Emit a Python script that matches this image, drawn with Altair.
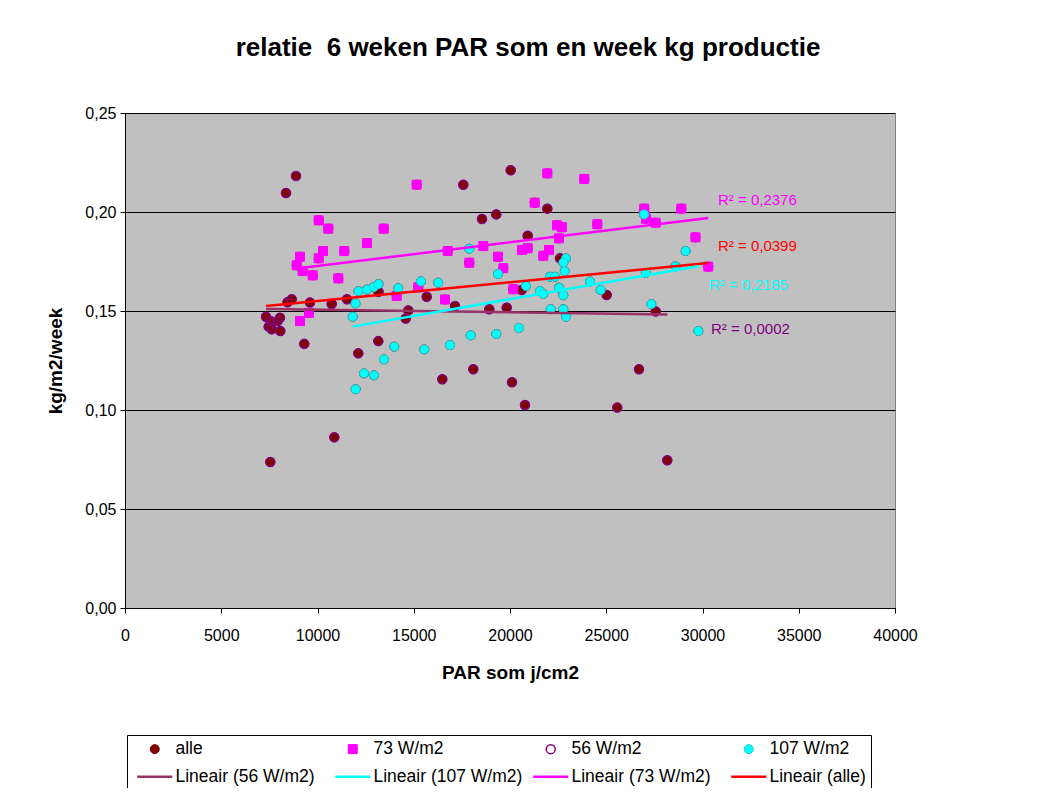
import altair as alt
import pandas as pd

FONT = "Liberation Sans"

# 56 W/m2 series (dark red points, also part of "alle")
par_56 = [8883, 8364, 8660, 8442, 9610, 10738, 11532, 13169, 15673, 14717, 14582,
          7325, 7558, 8052, 7932, 7465, 7621, 8068, 9314, 13158, 12119, 16483,
          10873, 7548, 20036, 17574, 19288, 18545, 21938, 20919, 22597, 25023,
          20608, 17143, 18925, 19829, 18094, 20104, 20779, 25574, 26701, 27569, 28171]
kg_56 = [0.2182, 0.2096, 0.1559, 0.1544, 0.1543, 0.1535, 0.1559, 0.1597, 0.1572, 0.1503, 0.1462,
         0.1471, 0.1449, 0.1466, 0.1449, 0.1421, 0.1408, 0.1399, 0.1334, 0.1348, 0.1286, 0.1155,
         0.0862, 0.0737, 0.2211, 0.2138, 0.1988, 0.1965, 0.2017, 0.1880, 0.1766, 0.1581,
         0.1606, 0.1525, 0.1509, 0.1517, 0.1206, 0.1140, 0.1025, 0.1012, 0.1206, 0.1498, 0.0746]

# 73 W/m2 series (magenta squares)
par_73 = [15153, 10062, 10561, 13439, 12571, 10286, 11392, 10062, 9091, 8919, 9231, 9751,
          11081, 9558, 9091, 16623, 15236, 14114, 21938, 23860, 21283, 22442, 22701, 24535,
          22545, 16764, 18613, 20623, 20919, 22026, 21730, 19377, 17886, 19652, 20171,
          26977, 27065, 28899, 27569, 29636, 30301]
kg_73 = [0.2138, 0.1958, 0.1916, 0.1916, 0.1843, 0.1803, 0.1803, 0.1766, 0.1774, 0.1731, 0.1702, 0.1680,
         0.1665, 0.1491, 0.1449, 0.1558, 0.1620, 0.1576, 0.2195, 0.2167, 0.2047, 0.1933, 0.1923, 0.1938,
         0.1867, 0.1803, 0.1828, 0.1808, 0.1817, 0.1808, 0.1779, 0.1774, 0.1744, 0.1716, 0.1610,
         0.2017, 0.1966, 0.2017, 0.1946, 0.1872, 0.1724]

# 107 W/m2 series (cyan points)
par_107 = [12130, 12571, 12919, 13169, 11974, 11829, 14197, 15377, 16270, 13990, 13455, 12416,
           12935, 15548, 16883, 11984, 17958, 19288, 20468, 22114, 22769, 22909, 17886, 19377,
           22909, 22769, 22842, 22078, 22338, 20831, 21558, 21730, 22545, 22769, 24156, 24712,
           26961, 29127, 28597, 27055, 27340, 29782]
kg_107 = [0.1600, 0.1608, 0.1621, 0.1636, 0.1538, 0.1471, 0.1615, 0.1650, 0.1643, 0.1320, 0.1256, 0.1185,
          0.1175, 0.1306, 0.1328, 0.1105, 0.1377, 0.1384, 0.1414, 0.1509, 0.1509, 0.1471, 0.1815, 0.1687,
          0.1766, 0.1744, 0.1701, 0.1673, 0.1673, 0.1626, 0.1601, 0.1586, 0.1618, 0.1579, 0.1649, 0.1606,
          0.1988, 0.1803, 0.1726, 0.1692, 0.1535, 0.1399]

# Legend entries and styles
labels = ["alle", "73 W/m2", "56 W/m2", "107 W/m2",
          "Lineair (56 W/m2)", "Lineair (107 W/m2)", "Lineair (73 W/m2)", "Lineair (alle)"]
fills = ["#800000", "#FF00FF", "transparent", "#00FFFF",
         "transparent", "transparent", "transparent", "transparent"]
strokes = ["#800000", "#FF00FF", "#800080", "#22CCCC",
           "#993366", "#00FFFF", "#FF00FF", "#FF0000"]
LINE = "M-3.9,0H3.9"
shapes = ["circle", "square", "circle", "circle", LINE, LINE, LINE, LINE]
widths = [1, 1, 1.5, 1, 2.5, 2.5, 2.5, 2.5]

line_series = ["56 W/m2", "107 W/m2", "73 W/m2", "alle"]
line_colors = ["#993366", "#00FFFF", "#FF00FF", "#FF0000"]

# R² annotations
r2_text = ["R² = 0,2376", "R² = 0,0399", "R² = 0,2185", "R² = 0,0002"]
r2_par = [30805, 30805, 30338, 30442]
r2_kg = [0.2061, 0.1828, 0.1631, 0.1409]
r2_color = ["#FF00FF", "#FF0000", "#00FFFF", "#800080"]

rows = []
for p, k in zip(par_56 + par_73 + par_107, kg_56 + kg_73 + kg_107):
    rows.append({"par": p, "kg": k, "series": "alle"})
for p, k in zip(par_56, kg_56):
    rows.append({"par": p, "kg": k, "series": "56 W/m2"})
for p, k in zip(par_73, kg_73):
    rows.append({"par": p, "kg": k, "series": "73 W/m2"})
for p, k in zip(par_107, kg_107):
    rows.append({"par": p, "kg": k, "series": "107 W/m2"})
df = pd.DataFrame(rows)
df["label"] = df["series"]

x_enc = alt.X("par:Q",
              scale=alt.Scale(domain=[0, 40000], nice=False, zero=False),
              axis=alt.Axis(values=list(range(0, 40001, 5000)), format="d", grid=False,
                            title="PAR som j/cm2", titleFontSize=19, titleFont=FONT,
                            titleFontWeight="bold", titleColor="black", titlePadding=20,
                            labelFont=FONT, labelFontSize=16, labelColor="black",
                            labelPadding=14, tickSize=5, tickColor="black",
                            domainColor="black", labelFlush=False))
y_enc = alt.Y("kg:Q",
              scale=alt.Scale(domain=[0, 0.25], nice=False, zero=True),
              axis=alt.Axis(values=[0, 0.05, 0.1, 0.15, 0.2, 0.25],
                            labelExpr="replace(format(datum.value, '.2f'), '.', ',')",
                            grid=True, gridColor="black", gridWidth=1, gridOpacity=1,
                            title="kg/m2/week", titleFontSize=19, titleFont=FONT,
                            titleFontWeight="bold", titleColor="black", titlePadding=19,
                            labelFont=FONT, labelFontSize=16, labelColor="black",
                            labelPadding=4, tickSize=5, tickColor="black",
                            domainColor="black", labelFlush=False))

legend = alt.Legend(title=None, orient="none", legendX=2, legendY=622, columns=4,
                    gridAlign="all", direction="horizontal",
                    fillColor="white", strokeColor="black", padding=5,
                    labelFont=FONT, labelFontSize=17.5, labelColor="black",
                    labelOffset=12, symbolOffset=14, rowPadding=9, columnPadding=5,
                    symbolSize=81, symbolLimit=0)

pts = alt.Chart(df).mark_point(filled=True, opacity=1, size=81).encode(
    x=x_enc, y=y_enc,
    fill=alt.Fill("label:N", scale=alt.Scale(domain=labels, range=fills), legend=legend),
    stroke=alt.Stroke("label:N", scale=alt.Scale(domain=labels, range=strokes)),
    shape=alt.Shape("label:N", scale=alt.Scale(domain=labels, range=shapes)),
    strokeWidth=alt.StrokeWidth("label:N",
                                scale=alt.Scale(type="ordinal", domain=labels, range=widths)),
)

lines = alt.Chart(df).transform_regression(
    "par", "kg", groupby=["series"]
).mark_line(strokeWidth=2.5).encode(
    x=x_enc, y=y_enc,
    color=alt.Color("series:N", scale=alt.Scale(domain=line_series, range=line_colors),
                    legend=None),
)

text_layers = []
for t, px, ky, c in zip(r2_text, r2_par, r2_kg, r2_color):
    tdf = pd.DataFrame({"par": [px], "kg": [ky], "text": [t]})
    text_layers.append(
        alt.Chart(tdf).mark_text(align="left", baseline="middle", font=FONT,
                                 fontSize=15, color=c).encode(x=x_enc, y=y_enc, text="text:N")
    )

chart = alt.layer(pts, lines, *text_layers).properties(
    width=770, height=495,
    title=alt.TitleParams(text="relatie \u00a06 weken PAR som en week kg productie",
                          fontSize=26, font=FONT, fontWeight="bold", color="black",
                          anchor="middle", dx=18, offset=44),
    autosize=alt.AutoSizeParams(type="none"),
    padding={"left": 117, "top": 105, "right": 136, "bottom": 180},
    background="white",
).configure_view(fill="#C0C0C0", stroke="#808080", strokeWidth=1)

chart.save("out.html", embed_options={"renderer": "svg", "actions": False})
